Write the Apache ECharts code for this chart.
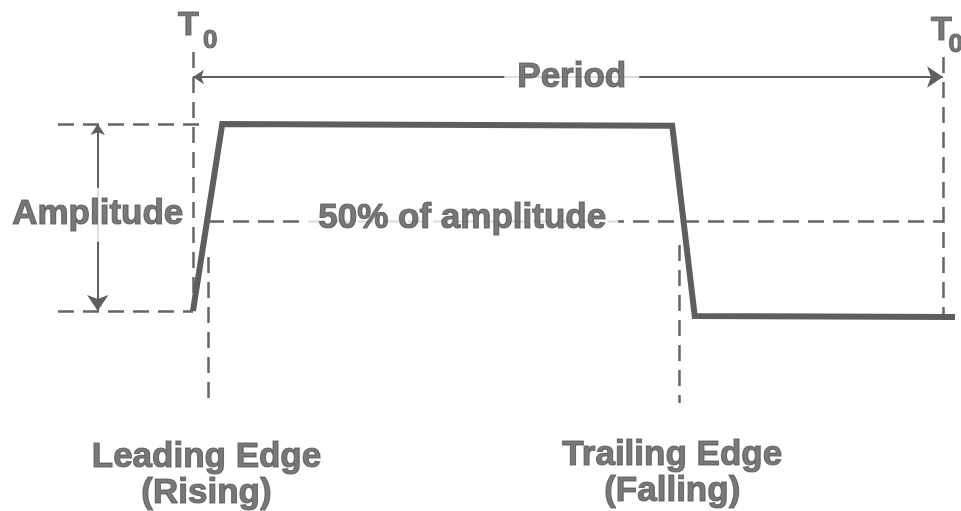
<!DOCTYPE html>
<html>
<head>
<meta charset="utf-8">
<title>Pulse waveform</title>
<script src="https://cdn.jsdelivr.net/npm/echarts@6/dist/echarts.min.js"></script>
<style>
  html, body { margin: 0; padding: 0; background: #fff; }
  #main { width: 961px; height: 511px; }
</style>
</head>
<body>
<div id="main"></div>
<script>
// 波形数据：时间 (周期的 %)，电平 (幅度的 %)
const waveTime = [0, 3.9, 63.9, 66.9, 101.6];
const waveLevel = [0, 100, 99, -2.7, -3.2];

// 参考点
const periodStart = 0;
const periodEnd = 100;
const highLevel = 100;
const lowLevel = 0;
const halfLevel = 48;
const leadingTime = 2.0;
const trailingTime = 64.9;

// 文字标注 (时间, 电平)
const noteText = ['T', '0', 'T', '0', 'Period', 'Amplitude', '50% of amplitude',
  'Leading Edge\n(Rising)', 'Trailing Edge\n(Falling)'];
const noteTime = [-0.6, 2.3, 99.8, 101.7, 50.5, -12.7, 35.9, 1.8, 63.9];
const noteLevel = [152.6, 144.4, 149.8, 142.2, 125.0, 51.5, 49.6, -87.8, -86.6];

let myChart = echarts.init(document.getElementById('main'));
const ink = '#585858';
const font = 'Liberation Sans, Arial, sans-serif';

// 虚线辅助线
let dashes = [
  [[periodStart, 138.5], [periodStart, lowLevel]],
  [[periodEnd, 135.8], [periodEnd, -2.7]],
  [[-18, highLevel], [1.3, highLevel]],
  [[-18, lowLevel], [periodStart, lowLevel]],
  [[leadingTime, halfLevel], [periodEnd, halfLevel]],
  [[leadingTime, 28.9], [leadingTime, -47.6]],
  [[trailingTime, 35.3], [trailingTime, -49.2]]
].map(c => ({ coords: c }));

// 双向箭头
let arrows = [
  [[periodStart, 125.1], [periodEnd, 125.1]],
  [[-12.7, highLevel], [-12.7, lowLevel]]
].map(c => ({ coords: c }));

function noteStyle(i) {
  let s = {
    show: true, position: 'inside', align: 'center', verticalAlign: 'middle',
    formatter: noteText[i], color: ink, fontFamily: font, fontWeight: 'bold',
    fontSize: 35, lineHeight: 36, textBorderColor: ink, textBorderWidth: 1.2
  };
  if (noteText[i] === 'T') s.fontSize = 34;
  if (noteText[i] === '0') s.fontSize = 26;
  if (i === 4) { s.backgroundColor = '#fff'; s.padding = [4, 13]; }
  if (i === 5) { s.backgroundColor = '#fff'; s.padding = [9, 0]; }
  if (i === 6) { s.backgroundColor = '#fff'; s.padding = [4, 12]; }
  return s;
}

let option = {
  animation: false,
  backgroundColor: '#fff',
  grid: { left: 0, right: 0, top: 0, bottom: 0 },
  xAxis: { type: 'value', min: -25.73, max: 102.4, show: false },
  yAxis: { type: 'value', min: -107, max: 166.3, show: false },
  series: [
    {
      type: 'lines', coordinateSystem: 'cartesian2d', silent: true, z: 2,
      lineStyle: { color: '#666', width: 2.5, type: [16, 9], opacity: 1, curveness: 0 },
      data: dashes
    },
    {
      type: 'lines', coordinateSystem: 'cartesian2d', silent: true, z: 3,
      symbol: ['arrow', 'arrow'], symbolSize: [11, 16],
      lineStyle: { color: '#5f5f5f', width: 2, opacity: 1, curveness: 0 },
      data: arrows
    },
    {
      type: 'line', silent: true, z: 4, showSymbol: false,
      lineStyle: { color: '#5e5e5e', width: 6, join: 'miter' },
      data: waveTime.map((t, i) => [t, waveLevel[i]])
    },
    {
      type: 'scatter', silent: true, z: 10, symbolSize: 0,
      data: noteText.map((t, i) => ({ value: [noteTime[i], noteLevel[i]], label: noteStyle(i) }))
    }
  ]
};
myChart.setOption(option, true);
</script>
</body>
</html>
